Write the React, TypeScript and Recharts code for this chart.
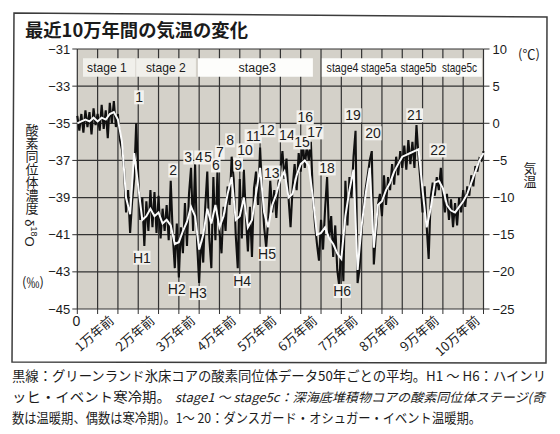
import React from "react";
import {
  ComposedChart,
  Line,
  XAxis,
  YAxis,
  CartesianGrid,
  ReferenceArea,
  ReferenceDot,
  ReferenceLine,
} from "recharts";

// δ18O (‰), Greenland ice core, 50-year means sampled every 500 years (0 → 100,000 years ago)
const blackD18O = [
  -34.6, -35.4, -34.5, -35.5, -34.3, -35.2, -34.4, -35.6, -34.2, -35.1, -34.5,
  -35.4, -34.0, -35.3, -34.3, -35.8, -33.9, -35.0, -33.8, -35.2, -34.5,
  -35.9, -36.4, -37.4, -39.8, -38.6, -40.9, -39.2, -38.0, -35.0, -37.8,
  -40.2, -39.0, -41.6, -39.2, -40.8, -38.6, -40.6, -38.7, -40.9, -38.9,
  -41.2, -39.6, -40.8, -39.4, -41.3, -38.1, -41.0, -42.8, -40.4, -43.3,
  -40.6, -42.0, -39.3, -41.6, -38.8, -37.4, -40.8, -37.2, -41.5, -43.6,
  -41.0, -42.5, -39.5, -37.6, -41.2, -42.8, -37.9, -41.3, -37.6, -40.8,
  -42.0, -39.5, -40.8, -38.4, -39.4, -36.8, -38.0, -41.0, -42.8, -38.0,
  -41.2, -37.5, -40.0, -41.9, -39.5, -42.2, -38.5, -37.6, -39.4, -36.3,
  -38.8, -40.6, -41.7, -40.2, -38.1, -39.8, -38.6, -40.1, -38.2, -37.5,
  -36.5, -38.0, -36.9, -39.0, -40.6, -38.5, -37.2, -38.6, -36.6, -37.6,
  -35.9, -37.4, -36.2, -37.0, -36.0, -38.9, -40.4, -41.5, -42.4, -40.2,
  -41.8, -39.6, -37.9, -41.2, -40.0, -42.2, -40.5, -42.9, -43.8, -41.0,
  -43.5, -38.1, -40.5, -37.9, -39.0, -36.8, -35.4, -43.6, -42.8, -40.8,
  -39.4, -38.5, -37.8, -37.0, -36.5, -42.6, -41.0, -39.4, -38.8, -40.0,
  -37.8, -39.4, -37.9, -38.6, -37.2, -38.3, -36.8, -37.8, -36.5, -37.4,
  -36.2, -37.5, -35.9, -37.2, -36.0, -37.4, -35.1, -36.8, -38.2, -39.8,
  -38.4, -40.5, -42.3, -39.0, -38.2, -38.9, -37.9, -38.6, -37.4, -38.8,
  -39.8, -38.8, -40.2, -39.1, -40.6, -39.3, -40.5, -39.0, -39.8, -38.6,
  -39.5, -38.4, -38.9, -37.8, -38.4, -37.3, -37.6, -36.9, -37.0, -36.5,
];

// smoothed curve, every 1,000 years
const whiteD18O = [
  -35.0, -34.9, -34.8, -34.9, -34.7, -34.9, -34.7, -34.8, -34.5, -34.4, -34.8,
  -36.0, -39.0, -39.9, -36.6, -38.4, -40.2, -40.0, -39.6, -40.0, -39.8,
  -40.4, -40.2, -40.5, -41.5, -41.4, -40.8, -40.3, -39.5, -40.0, -41.8,
  -41.0, -39.6, -40.4, -39.4, -40.6, -40.0, -38.8, -37.9, -40.2, -40.0,
  -39.0, -40.6, -40.2, -38.8, -37.4, -39.8, -40.6, -39.4, -38.8, -38.0,
  -37.6, -39.0, -38.8, -37.8, -37.2, -37.0, -37.3, -39.0, -41.0, -40.9,
  -40.6, -41.2, -41.5, -42.0, -42.3, -40.0, -38.6, -37.5, -42.9, -40.5,
  -38.8, -37.4, -41.7, -39.4, -39.2, -38.6, -38.2, -37.6, -37.2, -36.8,
  -36.7, -36.6, -36.5, -36.4, -38.6, -40.6, -39.6, -38.2, -38.1, -38.5,
  -39.4, -39.7, -39.8, -39.5, -39.2, -38.8, -38.2, -37.6, -37.0, -36.6,
];

const ageTicks = [0, 5, 10, 15, 20, 25, 30, 35, 40, 45, 50, 55, 60, 65, 70, 75, 80, 85, 90, 95, 100];
const d18oTicks = [-31, -33, -35, -37, -39, -41, -43, -45];
const tempTicks = [10, 5, 0, -5, -10, -15, -20, -25];

// marine isotope stages (ages in thousand years)
const stageNames = ["stage 1", "stage 2", "stage3", "stage4", "stage5a", "stage5b", "stage5c"];
const stageNameAge = [7.3, 21.8, 44.3, 65.3, 74.2, 84.0, 94.1];
const stageBoxFrom = [1.4, 14.5, 29.7, 60.2];
const stageBoxTo = [14.3, 29.2, 58.0, 99.6];

// Dansgaard–Oeschger warm events and Heinrich events
const eventNames = [
  "1", "2", "3", "4", "5", "6", "7", "8", "9", "10", "11", "12", "13", "14", "15", "16",
  "17", "18", "19", "20", "21", "22", "H1", "H2", "H3", "H4", "H5", "H6",
];
const eventAge = [
  15.2, 23.6, 27.3, 30.0, 32.2, 34.1, 35.1, 37.6, 39.6, 41.3, 43.3, 46.7, 47.9, 51.6, 55.3, 56.1,
  58.5, 61.5, 67.9, 72.8, 83.1, 88.8, 15.9, 24.5, 29.7, 40.6, 46.7, 65.2,
];
const eventD18O = [
  -33.6, -37.54, -36.84, -36.84, -36.84, -37.27, -36.57, -35.92, -37.22, -36.46, -35.7, -35.38,
  -37.65, -35.65, -36.03, -34.68, -35.49, -37.43, -34.57, -35.54, -34.57, -36.46,
  -42.24, -43.92, -44.14, -43.49, -42.03, -44.03,
];

const rows = blackD18O.map((v, i) => ({
  k: i / 2,
  black: v,
  white: i % 2 === 0 ? whiteD18O[i / 2] : null,
}));

const INK = "#1b1b1b";
const GRID = "#323232";
const LATIN = '"Liberation Sans", Arial, sans-serif';
const JP = '"Noto Sans CJK JP", "Noto Sans CJK SC", sans-serif';
// horizontal squeeze of the stage captions (the printed ones are condensed)
const STAGE_SCALE = [0.97, 0.97, 1, 0.85, 0.8, 0.81, 0.8];

const minus = (v: number) => (v < 0 ? `\u2212${-v}` : `${v}`);

function AgeTick({ x, y, payload }: any) {
  const v = payload.value;
  if (v === 0) {
    return (
      <text x={x - 1} y={y + 10} textAnchor="middle" fontSize={14} fill={INK} fontFamily={LATIN}>
        0
      </text>
    );
  }
  if (v % 10 !== 0) return <g />;
  const ax = x - 3;
  const ay = y + 6;
  return (
    <text
      x={ax}
      y={ay}
      textAnchor="end"
      transform={`rotate(-41 ${ax} ${ay})`}
      fontSize={13}
      fill={INK}
      fontFamily={JP}
    >
      {v / 10}万年前
    </text>
  );
}

const tagShape = (text: string) => (p: any) => {
  const w = text.length * 7.6 + 2;
  return (
    <g>
      <rect x={p.cx - w / 2} y={p.cy - 7} width={w} height={14} fill="#f3f2ee" />
      <text x={p.cx} y={p.cy + 5} textAnchor="middle" fontSize={14} fill={INK} fontFamily={LATIN}>
        {text}
      </text>
    </g>
  );
};

const stageShape = (text: string, sx: number) => (p: any) => (
  <g transform={`translate(${p.cx} ${p.cy + 4}) scale(${sx} 1)`}>
    <text x={0} y={0} textAnchor="middle" fontSize={12.5} fill={INK} fontFamily={LATIN}>
      {text}
    </text>
  </g>
);

const axisTickStyle = { fontSize: 13, fill: INK, fontFamily: LATIN };

export default function App() {
  return (
    <div
      style={{
        position: "absolute",
        left: 0,
        top: 0,
        width: 560,
        height: 434,
        background: "#ffffff",
        overflow: "hidden",
      }}
    >
      <ComposedChart
        width={560}
        height={434}
        data={rows}
        margin={{ top: 39, right: 0, bottom: 0, left: 0 }}
      >
        <CartesianGrid xAxisId="age" yAxisId="d" fill="#d4d1c9" stroke={GRID} strokeWidth={1.2} />
        <XAxis
          xAxisId="age"
          dataKey="k"
          type="number"
          domain={[0, 100]}
          ticks={ageTicks}
          interval={0}
          height={125}
          tickSize={5}
          tickMargin={2}
          axisLine={false}
          tickLine={{ stroke: GRID }}
          tick={<AgeTick />}
        />
        <XAxis
          xAxisId="top"
          orientation="top"
          dataKey="k"
          type="number"
          domain={[0, 100]}
          ticks={ageTicks}
          interval={0}
          height={10}
          tickSize={5}
          axisLine={false}
          tickLine={{ stroke: GRID }}
          tick={false}
        />
        <YAxis
          yAxisId="d"
          domain={[-45, -31]}
          ticks={d18oTicks}
          interval={0}
          width={77.3}
          tickSize={5}
          tickMargin={2}
          axisLine={false}
          tickLine={{ stroke: GRID }}
          tick={axisTickStyle}
          tickFormatter={minus}
          allowDataOverflow
        />
        <YAxis
          yAxisId="t"
          orientation="right"
          type="number"
          domain={[-25, 10]}
          ticks={tempTicks}
          interval={0}
          width={76.5}
          tickSize={6}
          tickMargin={3}
          axisLine={false}
          tickLine={{ stroke: GRID }}
          tick={axisTickStyle}
          tickFormatter={minus}
          allowDataOverflow
        />
        {/* the temperature scale carries no series of its own; pin its range */}
        <ReferenceLine xAxisId="age" yAxisId="t" y={10} stroke="none" ifOverflow="extendDomain" />
        <ReferenceLine xAxisId="age" yAxisId="t" y={-25} stroke="none" ifOverflow="extendDomain" />

        {stageBoxFrom.map((from, i) => (
          <ReferenceArea
            key={`box-${i}`}
            xAxisId="age"
            yAxisId="d"
            x1={from}
            x2={stageBoxTo[i]}
            y1={-32.5}
            y2={-31.5}
            fill={i < 2 ? "#f1f0eb" : "#fdfdfb"}
            fillOpacity={1}
            stroke="none"
          />
        ))}
        {stageNames.map((name, i) => (
          <ReferenceDot
            key={name}
            xAxisId="age"
            yAxisId="d"
            x={stageNameAge[i]}
            y={-32}
            r={0}
            shape={stageShape(name, STAGE_SCALE[i])}
          />
        ))}

        <Line
          xAxisId="age"
          yAxisId="d"
          dataKey="black"
          stroke="#101010"
          strokeWidth={2.1}
          dot={false}
          isAnimationActive={false}
        />
        <Line
          xAxisId="age"
          yAxisId="d"
          dataKey="white"
          stroke="#fbfbfb"
          strokeWidth={2}
          dot={false}
          connectNulls
          isAnimationActive={false}
        />

        {eventNames.map((name, i) => (
          <ReferenceDot
            key={name}
            xAxisId="age"
            yAxisId="d"
            x={eventAge[i]}
            y={eventD18O[i]}
            r={0}
            shape={tagShape(name)}
          />
        ))}
      </ComposedChart>

      <svg
        width={560}
        height={434}
        style={{ position: "absolute", left: 0, top: 0, pointerEvents: "none" }}
      >
        <path d="M14 13 L547 17 L546 363 L12 362 Z" fill="none" stroke="#3c3c3c" strokeWidth={1.5} />
        <text
          x={25}
          y={37}
          fontSize={18}
          fontWeight={700}
          fill={INK}
          fontFamily={JP}
          textLength={223}
          lengthAdjust="spacingAndGlyphs"
        >
          最近10万年間の気温の変化
        </text>

        <text
          x={32}
          y={124}
          fontSize={13}
          fill={INK}
          fontFamily={JP}
          style={{ writingMode: "vertical-rl" }}
          textLength={91}
          lengthAdjust="spacing"
        >
          酸素同位体濃度
        </text>
        <text
          transform="translate(30 233) rotate(90)"
          textAnchor="middle"
          dominantBaseline="central"
          fontSize={13}
          fill={INK}
          fontFamily={LATIN}
        >
          <tspan>δ</tspan>
          <tspan dy={-4} fontSize={9}>18</tspan>
          <tspan dy={4}>O</tspan>
        </text>
        <text x={33} y={287} textAnchor="middle" fontSize={13} fill={INK} fontFamily={JP}>
          (‰)
        </text>

        <text x={529} y={59} textAnchor="middle" fontSize={13} fill={INK} fontFamily={JP}>
          (℃)
        </text>
        <text
          x={530}
          y={162}
          fontSize={13}
          fill={INK}
          fontFamily={JP}
          style={{ writingMode: "vertical-rl" }}
        >
          気温
        </text>

        <text
          x={12}
          y={381}
          fontSize={13.2}
          fill={INK}
          fontFamily={JP}
          textLength={534}
          lengthAdjust="spacingAndGlyphs"
        >
          黒線：グリーンランド氷床コアの酸素同位体データ50年ごとの平均。H1 ～ H6：ハインリ
        </text>
        <text
          x={12}
          y={402}
          fontSize={13.2}
          fill={INK}
          fontFamily={JP}
          textLength={159}
          lengthAdjust="spacingAndGlyphs"
        >
          ッヒ・イベント寒冷期。
        </text>
        <text
          x={175}
          y={402}
          fontSize={12.6}
          fontStyle="italic"
          fill={INK}
          fontFamily={JP}
          textLength={370}
          lengthAdjust="spacingAndGlyphs"
        >
          stage1 ～ stage5c：深海底堆積物コアの酸素同位体ステージ(奇
        </text>
        <text
          x={12}
          y={423}
          fontSize={13.2}
          fill={INK}
          fontFamily={JP}
          textLength={469}
          lengthAdjust="spacingAndGlyphs"
        >
          数は温暖期、偶数は寒冷期)。1～ 20：ダンスガード・オシュガー・イベント温暖期。
        </text>
      </svg>
    </div>
  );
}
